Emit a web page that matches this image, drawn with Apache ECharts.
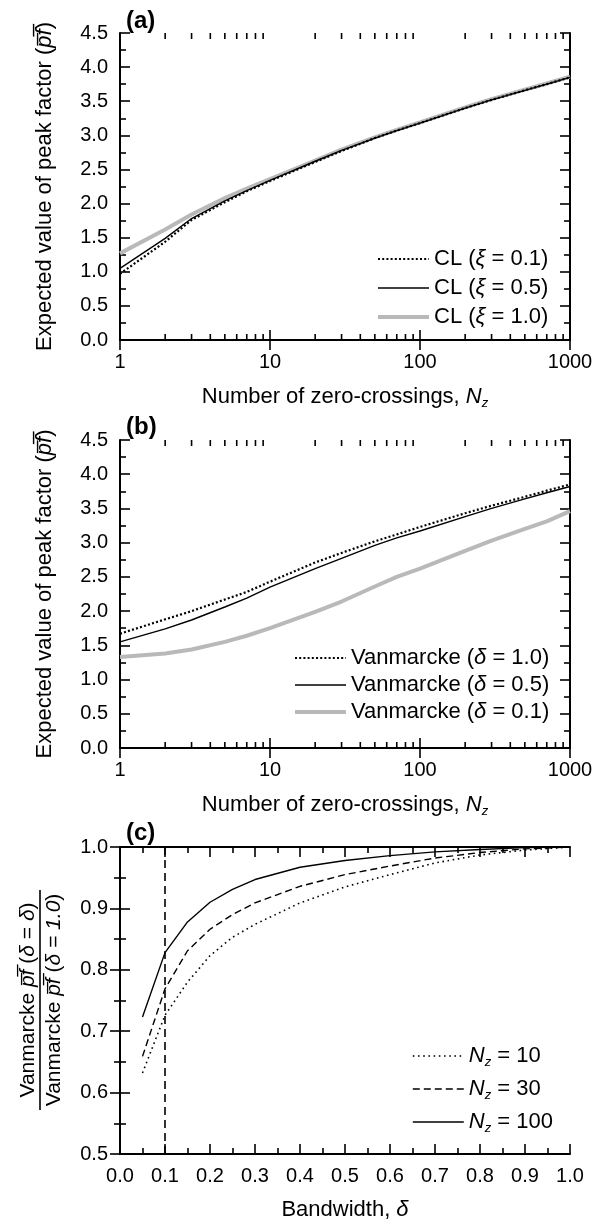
<!DOCTYPE html>
<html>
<head>
<meta charset="utf-8">
<script src="https://cdn.jsdelivr.net/npm/echarts@6/dist/echarts.min.js"></script>
<style>
html,body{margin:0;padding:0;background:#fff;}
#c{width:596px;height:1224px;}
</style>
</head>
<body>
<div id="c"></div>
<script>
// ---- data ----
const zeroCrossings = [1, 2, 3, 5, 7, 10, 20, 30, 50, 70, 100, 200, 300, 500, 700, 1000];
const clXi01 = [0.97, 1.44, 1.76, 2.02, 2.18, 2.33, 2.61, 2.77, 2.96, 3.07, 3.18, 3.40, 3.52, 3.66, 3.75, 3.85];
const clXi05 = [1.05, 1.49, 1.78, 2.04, 2.19, 2.34, 2.62, 2.78, 2.96, 3.07, 3.18, 3.40, 3.52, 3.66, 3.75, 3.85];
const clXi10 = [1.27, 1.62, 1.84, 2.08, 2.22, 2.36, 2.63, 2.79, 2.97, 3.08, 3.19, 3.41, 3.53, 3.67, 3.76, 3.86];

const vanD10 = [1.67, 1.88, 2.00, 2.17, 2.28, 2.43, 2.71, 2.85, 3.02, 3.12, 3.23, 3.43, 3.54, 3.67, 3.76, 3.85];
const vanD05 = [1.55, 1.74, 1.87, 2.06, 2.19, 2.35, 2.62, 2.77, 2.96, 3.07, 3.17, 3.38, 3.50, 3.64, 3.73, 3.82];
const vanD01 = [1.33, 1.38, 1.44, 1.55, 1.64, 1.75, 1.99, 2.14, 2.36, 2.50, 2.62, 2.88, 3.03, 3.20, 3.31, 3.46];

const bandwidth = [0.05, 0.10, 0.15, 0.20, 0.25, 0.30, 0.40, 0.50, 0.60, 0.70, 0.80, 0.90, 1.00];
const ratioNz10  = [0.632, 0.726, 0.780, 0.823, 0.853, 0.874, 0.909, 0.935, 0.955, 0.974, 0.987, 0.995, 1.000];
const ratioNz30  = [0.659, 0.769, 0.831, 0.866, 0.890, 0.909, 0.936, 0.955, 0.969, 0.982, 0.991, 0.997, 1.000];
const ratioNz100 = [0.723, 0.828, 0.878, 0.910, 0.931, 0.947, 0.967, 0.978, 0.986, 0.992, 0.996, 0.999, 1.000];
const cutoffDelta = 0.1;

const logMinorTicks = [2,3,4,5,6,7,8,9,20,30,40,50,60,70,80,90,200,300,400,500,600,700,800,900];

// ---- styling ----
const FONT = 'Liberation Sans, Arial, sans-serif';
const FS = 20;   // tick labels
const FT = 22;   // titles / legends
const BLACK = '#000';
const GRAY = '#b9b9b9';

const pair = (xs, ys) => xs.map((x, i) => [x, ys[i]]);

const grids = [
  {left: 120, top: 33, width: 450, height: 307},
  {left: 120, top: 440, width: 450, height: 308},
  {left: 120, top: 847, width: 450, height: 307}
];

const richCommon = {
  t: {fontFamily: FONT, fontSize: FT, color: BLACK, lineHeight: 26, verticalAlign: 'middle'},
  i: {fontFamily: FONT, fontSize: FT, color: BLACK, fontStyle: 'italic', lineHeight: 26, verticalAlign: 'middle'},
  s: {fontFamily: FONT, fontSize: 13, color: BLACK, fontStyle: 'italic', lineHeight: 12, verticalAlign: 'bottom'}
};

const axisLine = {show: true, lineStyle: {color: BLACK, width: 2}};
const majorTick = {show: true, inside: true, length: 10, lineStyle: {color: BLACK, width: 1.6}};
const minorTick = {show: true, splitNumber: 2, length: 6, lineStyle: {color: BLACK, width: 1.6}};
const labelStyle = {fontFamily: FONT, fontSize: FS, color: BLACK, margin: 12};

function logX(gridIndex, pos, withLabels, name) {
  return {
    type: 'log', logBase: 10, gridIndex, position: pos, min: 1, max: 1000,
    axisLine, axisTick: majorTick, splitLine: {show: false},
    axisLabel: Object.assign({show: withLabels, formatter: v => String(Math.round(v))}, labelStyle),
    name: name || '', nameLocation: 'middle', nameGap: 44,
    nameTextStyle: {rich: richCommon}
  };
}
function valY(gridIndex, pos, withLabels, min, max, interval, name, nameGap) {
  return {
    type: 'value', gridIndex, position: pos, min, max, interval,
    axisLine, axisTick: majorTick, minorTick, splitLine: {show: false}, minorSplitLine: {show: false},
    axisLabel: Object.assign({show: withLabels, formatter: v => v.toFixed(1)}, labelStyle),
    name: name || '', nameLocation: 'middle', nameGap: nameGap || 60,
    nameTextStyle: {rich: richCommon}
  };
}

const pfTitle = '{t|Expected value of peak factor (}{i|p\u0305f\u0305}{t|)}';
const nzTitle = '{t|Number of zero-crossings, }{i|N}{s|z}';

const xAxis = [
  logX(0, 'bottom', true, nzTitle),
  logX(0, 'top', false),
  logX(1, 'bottom', true, nzTitle),
  logX(1, 'top', false),
  {
    type: 'value', gridIndex: 2, position: 'bottom', min: 0, max: 1, interval: 0.1,
    axisLine, axisTick: majorTick, minorTick, splitLine: {show: false},
    axisLabel: Object.assign({formatter: v => v.toFixed(1)}, labelStyle),
    name: '{t|Bandwidth, }{i|δ}', nameLocation: 'middle', nameGap: 43,
    nameTextStyle: {rich: richCommon}
  },
  {
    type: 'value', gridIndex: 2, position: 'top', min: 0, max: 1, interval: 0.1,
    axisLine, axisTick: majorTick, minorTick, splitLine: {show: false},
    axisLabel: {show: false}
  }
];
const yAxis = [
  valY(0, 'left', true, 0, 4.5, 0.5, pfTitle, 62),
  valY(0, 'right', false, 0, 4.5, 0.5),
  valY(1, 'left', true, 0, 4.5, 0.5, pfTitle, 62),
  valY(1, 'right', false, 0, 4.5, 0.5),
  valY(2, 'left', true, 0.5, 1.0, 0.1),
  valY(2, 'right', false, 0.5, 1.0, 0.1)
];

function lineSeries(name, xi, yi, xs, ys, style) {
  return {
    type: 'line', name, xAxisIndex: xi, yAxisIndex: yi, data: pair(xs, ys),
    showSymbol: false, symbol: 'none', smooth: false, silent: true,
    lineStyle: style, itemStyle: {color: style.color}, z: style.z || 2
  };
}
function minorTickSeries(xi, yi) {
  return {
    type: 'custom', xAxisIndex: xi, yAxisIndex: yi, silent: true, z: 5, clip: false,
    data: logMinorTicks.map(v => [v, 1]),
    renderItem: (params, api) => {
      const cs = params.coordSys;
      const x = api.coord([api.value(0), 1])[0];
      const st = {stroke: BLACK, lineWidth: 1.6};
      const b = cs.y + cs.height;
      return {type: 'group', children: [
        {type: 'line', shape: {x1: x, y1: b, x2: x, y2: b - 6}, style: st},
        {type: 'line', shape: {x1: x, y1: cs.y, x2: x, y2: cs.y + 6}, style: st}
      ]};
    }
  };
}

const dotA = {color: BLACK, width: 2.2, type: [2, 2.2]};
const solidA = {color: BLACK, width: 1.4, type: 'solid'};
const grayA = {color: GRAY, width: 4, type: 'solid', z: 1};
const dotC = {color: BLACK, width: 1.6, type: [1.6, 3.6]};
const dashC = {color: BLACK, width: 1.4, type: [7, 4]};
const solidC = {color: BLACK, width: 1.4, type: 'solid'};

const series = [
  lineSeries('CL (ξ = 0.1)', 0, 0, zeroCrossings, clXi01, dotA),
  lineSeries('CL (ξ = 0.5)', 0, 0, zeroCrossings, clXi05, solidA),
  lineSeries('CL (ξ = 1.0)', 0, 0, zeroCrossings, clXi10, grayA),
  minorTickSeries(0, 0),
  lineSeries('Vanmarcke (δ = 1.0)', 2, 2, zeroCrossings, vanD10, dotA),
  lineSeries('Vanmarcke (δ = 0.5)', 2, 2, zeroCrossings, vanD05, solidA),
  lineSeries('Vanmarcke (δ = 0.1)', 2, 2, zeroCrossings, vanD01, grayA),
  minorTickSeries(2, 2),
  Object.assign(lineSeries('Nz = 10', 4, 4, bandwidth, ratioNz10, dotC), {
    markLine: {
      silent: true, symbol: 'none', label: {show: false}, animation: false,
      lineStyle: {color: BLACK, width: 1.6, type: [8, 5]},
      data: [{xAxis: cutoffDelta}]
    }
  }),
  lineSeries('Nz = 30', 4, 4, bandwidth, ratioNz30, dashC),
  lineSeries('Nz = 100', 4, 4, bandwidth, ratioNz100, solidC)
];

const legendBase = {
  orient: 'vertical', itemWidth: 51, itemHeight: 14, selectedMode: false, padding: 0,
  itemStyle: {color: 'rgba(0,0,0,0)', borderColor: 'rgba(0,0,0,0)', borderWidth: 0},
  textStyle: {fontFamily: FONT, fontSize: FT, color: BLACK, lineHeight: 22}
};
const greekRich = {
  t: {fontFamily: FONT, fontSize: FT, color: BLACK, lineHeight: 22},
  i: {fontFamily: FONT, fontSize: FT, color: BLACK, fontStyle: 'italic', lineHeight: 22}
};
function greekFmt(name) {
  const m = name.match(/^(.*\()(.)(.*)$/);
  return '{t|' + m[1] + '}{i|' + m[2] + '}{t|' + m[3] + '}';
}
const li = (name, st) => ({name, lineStyle: {color: st.color, width: st.width, type: st.type}});
const legend = [
  Object.assign({}, legendBase, {
    left: 376, top: 248, itemGap: 7,
    data: [li('CL (ξ = 0.1)', dotA), li('CL (ξ = 0.5)', solidA), li('CL (ξ = 1.0)', grayA)],
    formatter: greekFmt, textStyle: Object.assign({}, legendBase.textStyle, {rich: greekRich})
  }),
  Object.assign({}, legendBase, {
    left: 293, top: 647, itemGap: 5,
    data: [li('Vanmarcke (δ = 1.0)', dotA), li('Vanmarcke (δ = 0.5)', solidA), li('Vanmarcke (δ = 0.1)', grayA)],
    formatter: greekFmt, textStyle: Object.assign({}, legendBase.textStyle, {rich: greekRich})
  }),
  Object.assign({}, legendBase, {
    left: 412, top: 1043, itemGap: 7,
    data: [li('Nz = 10', dotC), li('Nz = 30', dashC), li('Nz = 100', solidC)],
    formatter: n => '{i|N}{s|z}{t|' + n.slice(2) + '}',
    textStyle: Object.assign({}, legendBase.textStyle, {rich: richCommon})
  })
];

const fracRich = {
  t: {fontFamily: FONT, fontSize: 21, color: BLACK},
  i: {fontFamily: FONT, fontSize: 21, color: BLACK, fontStyle: 'italic'}
};
const graphic = [
  {type: 'text', left: 126, top: 9, style: {text: '(a)', font: 'bold 24px ' + FONT, fill: BLACK}},
  {type: 'text', left: 126, top: 415, style: {text: '(b)', font: 'bold 24px ' + FONT, fill: BLACK}},
  {type: 'text', left: 126, top: 821, style: {text: '(c)', font: 'bold 24px ' + FONT, fill: BLACK}},
  {
    type: 'group', x: 40, y: 1000, rotation: Math.PI / 2,
    children: [
      {type: 'text', x: 0, y: -12, style: {
        text: '{t|Vanmarcke }{i|p\u0305f\u0305}{t| (}{i|δ}{t| = }{i|δ}{t|)}', rich: fracRich,
        align: 'center', verticalAlign: 'middle'}},
      {type: 'line', shape: {x1: -110, y1: 0, x2: 110, y2: 0}, style: {stroke: BLACK, lineWidth: 1.6}},
      {type: 'text', x: 0, y: 14, style: {
        text: '{t|Vanmarcke }{i|p\u0305f\u0305}{t| (}{i|δ = 1.0}{t|)}', rich: fracRich,
        align: 'center', verticalAlign: 'middle'}}
    ]
  }
];

const chart = echarts.init(document.getElementById('c'), null, {renderer: 'canvas'});
chart.setOption({
  backgroundColor: '#fff',
  animation: false,
  grid: grids,
  xAxis, yAxis, series, legend, graphic
});
</script>
</body>
</html>
